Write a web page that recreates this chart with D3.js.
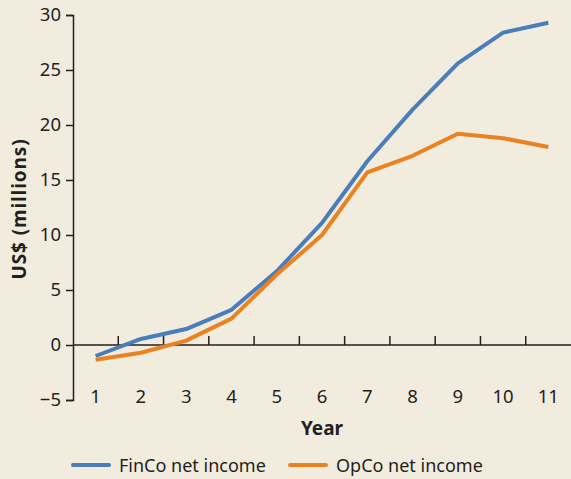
<!DOCTYPE html>
<html>
<head>
<meta charset="utf-8">
<script src="https://cdn.jsdelivr.net/npm/d3@7"></script>
<style>
    body { margin: 0; background: #f2ecdf; }
    svg { display: block; }
    text { font-family: "Noto Sans", sans-serif; fill: #231f20; }
</style>
</head>
<body>
<svg id="chart" width="571" height="479"></svg>
<script>
// data
var years = [1, 2, 3, 4, 5, 6, 7, 8, 9, 10, 11];
var finco = [-1.0, 0.55, 1.45, 3.2, 6.7, 11.1, 16.7, 21.4, 25.6, 28.4, 29.3];
var opco = [-1.35, -0.7, 0.4, 2.4, 6.4, 10.0, 15.7, 17.2, 19.2, 18.8, 18.0];
var yTicks = [-5, 0, 5, 10, 15, 20, 25, 30];
var seriesNames = ['FinCo net income', 'OpCo net income'];
var colors = ['#4a7dbb', '#e9821f'];

var svg = d3.select('#chart');
var margin = {top: 15, right: 0, bottom: 79, left: 73};
var width = 571, height = 479;

var x = d3.scaleBand()
    .domain(years)
    .range([margin.left, width - margin.right]);
var y = d3.scaleLinear()
    .domain([-5, 30])
    .range([height - margin.bottom, margin.top]);

// y-axis
var yAxis = svg.append('g')
    .attr('transform', 'translate(' + margin.left + ',0)')
    .call(d3.axisLeft(y).tickValues(yTicks).tickSize(7).tickPadding(5)
        .tickFormat(function(d) { return d < 0 ? '\u2212' + Math.abs(d) : d; }));
yAxis.select('.domain').attr('stroke', '#231f20').attr('stroke-width', 1.5);
yAxis.selectAll('.tick line').attr('stroke', '#231f20').attr('stroke-width', 1.5);
yAxis.selectAll('.tick text')
    .style('font-family', '"Noto Sans", sans-serif')
    .style('font-size', '18.5px').attr('fill', '#231f20');

// x-axis sits on the zero line, ticks between years pointing up
var xAxis = svg.append('g')
    .attr('transform', 'translate(0,' + y(0) + ')');
xAxis.append('line')
    .attr('x1', margin.left).attr('x2', width)
    .attr('stroke', '#231f20').attr('stroke-width', 1.5);
xAxis.selectAll('.tk')
    .data(years.slice(1))
    .enter().append('line')
    .attr('class', 'tk')
    .attr('x1', function(d) { return x(d); })
    .attr('x2', function(d) { return x(d); })
    .attr('y1', 0).attr('y2', -9)
    .attr('stroke', '#231f20').attr('stroke-width', 1.5);
svg.append('g').selectAll('text')
    .data(years)
    .enter().append('text')
    .attr('x', function(d) { return x(d) + x.bandwidth() / 2; })
    .attr('y', 403)
    .attr('text-anchor', 'middle')
    .style('font-size', '18.5px')
    .text(function(d) { return d; });

// axis titles
svg.append('text')
    .attr('x', x(6) + x.bandwidth() / 2)
    .attr('y', 435)
    .attr('text-anchor', 'middle')
    .style('font-size', '19px')
    .style('font-weight', 'bold')
    .text('Year');
svg.append('text')
    .attr('transform', 'translate(26,' + 209 + ') rotate(-90)')
    .attr('text-anchor', 'middle')
    .style('font-size', '19px')
    .style('letter-spacing', '0.9px')
    .style('font-weight', 'bold')
    .text('US$ (millions)');

// lines
var line = d3.line()
    .x(function(d, i) { return x(years[i]) + x.bandwidth() / 2; })
    .y(function(d) { return y(d); });

[finco, opco].forEach(function(s, i) {
    svg.append('path')
        .datum(s)
        .attr('fill', 'none')
        .attr('stroke', colors[i])
        .attr('stroke-width', 4)
        .attr('stroke-linejoin', 'round')
        .attr('d', line);
});

// legend
var legendX = [73, 290];
seriesNames.forEach(function(name, i) {
    var g = svg.append('g').attr('transform', 'translate(' + legendX[i] + ',465)');
    g.append('line')
        .attr('x1', 0).attr('x2', 36)
        .attr('stroke', colors[i]).attr('stroke-width', 4)
        .attr('stroke-linecap', 'round');
    g.append('text')
        .attr('x', 46).attr('y', 7)
        .style('font-size', '18px')
        .text(name);
});
</script>
</body>
</html>
